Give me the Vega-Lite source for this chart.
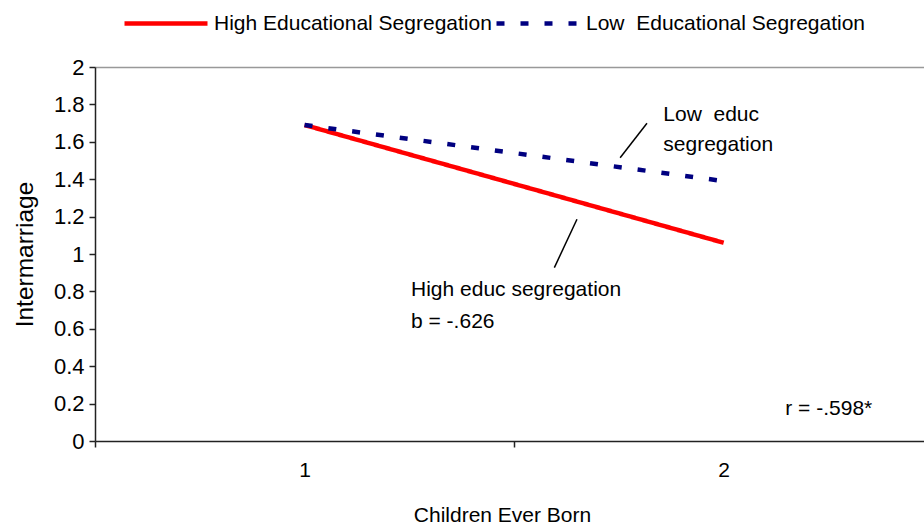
{
  "$schema": "https://vega.github.io/schema/vega-lite/v6.json",
  "width": 829,
  "height": 374,
  "autosize": {"type": "none"},
  "padding": {"left": 95, "top": 67, "right": 0, "bottom": 86},
  "config": {
    "view": {"stroke": null},
    "font": "Liberation Sans",
    "text": {"font": "Liberation Sans"}
  },
  "datasets": {
    "lines": [
      {"cb": 1, "val": 1.69, "series": "High Educational Segregation"},
      {"cb": 2, "val": 1.06, "series": "High Educational Segregation"},
      {"cb": 1, "val": 1.69, "series": "Low\u00a0 Educational Segregation"},
      {"cb": 2, "val": 1.39, "series": "Low\u00a0 Educational Segregation"}
    ],
    "notes": [
      {"x": 1.856, "y": 1.743, "label": "Low\u00a0 educ"},
      {"x": 1.856, "y": 1.583, "label": "segregation"},
      {"x": 1.254, "y": 0.807, "label": "High educ segregation"},
      {"x": 1.254, "y": 0.636, "label": "b = -.626"},
      {"x": 2.147, "y": 0.171, "label": "r = -.598*"}
    ],
    "leaders": [
      {"x": 1.753, "y": 1.515, "x2": 1.817, "y2": 1.699},
      {"x": 1.650, "y": 1.186, "x2": 1.596, "y2": 0.927}
    ]
  },
  "layer": [
    {
      "data": {"name": "lines"},
      "mark": {"type": "line", "strokeWidth": 4.5},
      "encoding": {
        "x": {
          "field": "cb",
          "type": "quantitative",
          "scale": {"domain": [0.5, 2.478], "nice": false, "zero": false},
          "axis": {
            "title": "Children Ever Born",
            "titleX": 407,
            "values": [0.5, 1, 1.5, 2],
            "tickCount": 20,
            "labelExpr": "datum.value == 1 ? '1' : datum.value == 2 ? '2' : ''",
            "tickOpacity": {"condition": {"test": "datum.value == 1 || datum.value == 2", "value": 0}, "value": 1},
            "tickSize": 6,
            "tickColor": "#222",
            "domainColor": "#222",
            "domainWidth": 1.5,
            "tickWidth": 1.5,
            "labelFontSize": 21,
            "labelColor": "black",
            "labelPadding": 12,
            "labelOverlap": false,
            "labelFlush": false,
            "titleFontSize": 21,
            "titleFontWeight": "normal",
            "titleColor": "black",
            "titlePadding": 24,
            "grid": false
          }
        },
        "y": {
          "field": "val",
          "type": "quantitative",
          "scale": {"domain": [0, 2], "nice": false},
          "axis": {
            "title": "Intermarriage",
            "values": [0, 0.2, 0.4, 0.6, 0.8, 1, 1.2, 1.4, 1.6, 1.8, 2],
            "tickCount": 20,
            "format": "~g",
            "tickSize": 6,
            "tickColor": "#222",
            "domainColor": "#222",
            "domainWidth": 1.5,
            "tickWidth": 1.5,
            "labelFontSize": 22,
            "labelColor": "black",
            "labelPadding": 5,
            "labelOverlap": false,
            "titleFontSize": 24.5,
            "titleFontWeight": "normal",
            "titleColor": "black",
            "titlePadding": 16,
            "grid": true,
            "gridColor": "#999",
            "gridWidth": 1.5,
            "gridOpacity": {"condition": {"test": "datum.value == 2", "value": 1}, "value": 0}
          }
        },
        "color": {
          "field": "series",
          "type": "nominal",
          "scale": {
            "domain": ["High Educational Segregation", "Low\u00a0 Educational Segregation"],
            "range": ["#ff0000", "#000080"]
          },
          "legend": {
            "title": null,
            "orient": "none",
            "legendX": 27,
            "legendY": -87.5,
            "direction": "horizontal",
            "symbolType": "stroke",
            "symbolSize": 6889,
            "symbolStrokeWidth": 4.5,
            "labelFontSize": 21,
            "labelColor": "black",
            "labelOffset": 4,
            "columnPadding": -5,
            "padding": 0,
            "labelLimit": 500
          }
        },
        "strokeDash": {
          "field": "series",
          "type": "nominal",
          "scale": {
            "domain": ["High Educational Segregation", "Low\u00a0 Educational Segregation"],
            "range": [[1, 0], [8, 16]]
          },
          "legend": {
            "title": null,
            "orient": "none",
            "legendX": 27,
            "legendY": -87.5,
            "direction": "horizontal",
            "symbolType": "stroke",
            "symbolSize": 6889,
            "symbolStrokeWidth": 4.5,
            "labelFontSize": 21,
            "labelColor": "black",
            "labelOffset": 4,
            "columnPadding": -5,
            "padding": 0,
            "labelLimit": 500
          }
        }
      }
    },
    {
      "data": {"name": "leaders"},
      "mark": {"type": "rule", "color": "black", "strokeWidth": 1.5},
      "encoding": {
        "x": {"field": "x", "type": "quantitative"},
        "y": {"field": "y", "type": "quantitative"},
        "x2": {"field": "x2"},
        "y2": {"field": "y2"}
      }
    },
    {
      "data": {"name": "notes"},
      "mark": {"type": "text", "align": "left", "baseline": "middle", "fontSize": 21, "color": "black"},
      "encoding": {
        "x": {"field": "x", "type": "quantitative"},
        "y": {"field": "y", "type": "quantitative"},
        "text": {"field": "label"}
      }
    }
  ]
}
